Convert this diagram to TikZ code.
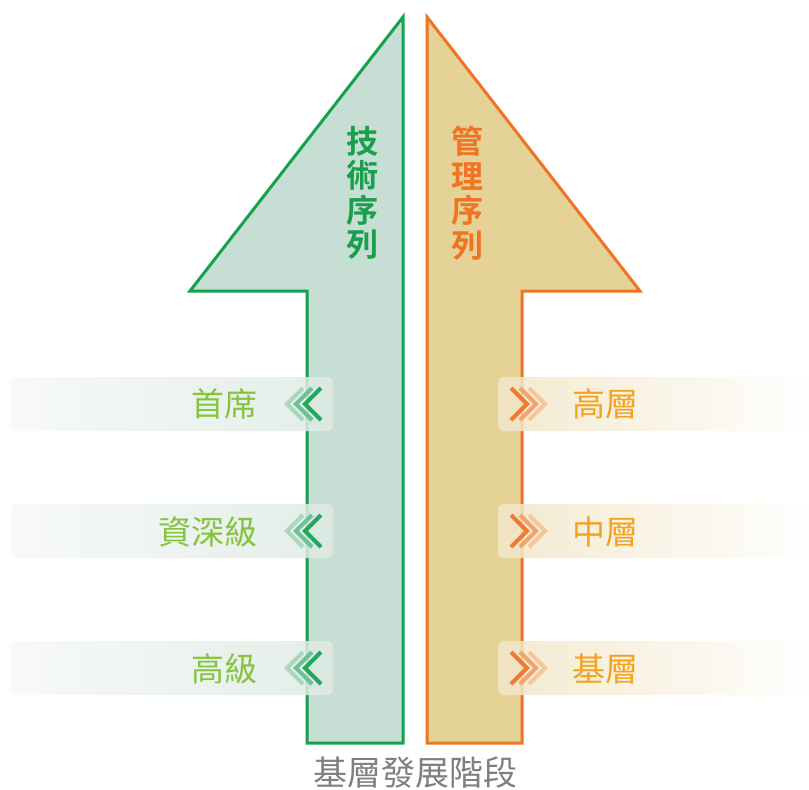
\documentclass[tikz,border=0pt]{standalone}
\usepackage{fontspec}
\setmainfont{Noto Sans CJK TC}
\newfontfamily\cjkb{Noto Sans CJK TC Bold}
\usetikzlibrary{calc}
\definecolor{gline}{HTML}{15A24E}
\definecolor{gfill}{HTML}{C6DED3}
\definecolor{oline}{HTML}{F07424}
\definecolor{ofill}{HTML}{E4D296}
\definecolor{glabel}{HTML}{86C440}
\definecolor{olabel}{HTML}{F5A21F}
\definecolor{gvert}{HTML}{1AA04C}
\definecolor{overt}{HTML}{F07424}
\definecolor{greytxt}{HTML}{7F7F80}
\definecolor{gban}{HTML}{DFEAE4}
\definecolor{oban}{HTML}{F1E6C8}
\definecolor{gch1}{HTML}{22A85C}
\definecolor{gch2}{HTML}{6CC294}
\definecolor{gch3}{HTML}{A9D8BE}
\definecolor{och1}{HTML}{F07A34}
\definecolor{och2}{HTML}{F3A46C}
\definecolor{och3}{HTML}{F5C69A}
\tikzset{
  gbanner/.style={rounded corners=5pt, left color=white!70!gban, right color=gban, draw=none, fill opacity=0.85},
  obanner/.style={rounded corners=5pt, left color=oban, right color=white, draw=none, fill opacity=0.85},
  glab/.style={font=\fontsize{33}{33}\selectfont, text=glabel, anchor=east, inner sep=0pt},
  olab/.style={font=\fontsize{33}{33}\selectfont, text=olabel, anchor=west, inner sep=0pt},
  vtxt/.style={font=\cjkb\fontsize{32}{34.5}\selectfont, align=center, inner sep=0pt},
  chev/.style={line width=4pt, miter limit=10, line join=miter}
}
\begin{document}
\begin{tikzpicture}[x=1pt,y=-1pt]
\useasboundingbox (0,0) rectangle (809,790);
% arrows
\draw[line width=3pt, draw=gline, fill=gfill, line join=miter]
  (403,17) -- (403,743) -- (307,743) -- (307,291) -- (190,291) -- cycle;
\draw[line width=3pt, draw=oline, fill=ofill, line join=miter]
  (427,17) -- (427,743) -- (522,743) -- (522,291) -- (640,291) -- cycle;
% vertical titles
\node[vtxt, text=gvert] (tech) at (362,193) {技\\術\\序\\列};
\node[vtxt, text=overt] (mgmt) at (467,193) {管\\理\\序\\列};
% banners
\foreach \y/\n in {404/a,531/b,668/c}{
  \shade[gbanner] (11,\y-27) rectangle (333,\y+27);
  \draw[chev, gch3] (303,\y-16) -- (287,\y) -- (303,\y+16);
  \draw[chev, gch2] (312,\y-16) -- (296,\y) -- (312,\y+16);
  \draw[chev, gch1] (321,\y-16) -- (305,\y) -- (321,\y+16);
  \shade[obanner] (498,\y-27) rectangle (820,\y+27);
  \draw[chev, och3] (529,\y-16) -- (545,\y) -- (529,\y+16);
  \draw[chev, och2] (520,\y-16) -- (536,\y) -- (520,\y+16);
  \draw[chev, och1] (511,\y-16) -- (527,\y) -- (511,\y+16);
}
\node[glab] (l1) at (258,404) {首席};
\node[glab] (l2) at (258,532) {資深級};
\node[glab] (l3) at (258,669) {高級};
\node[olab] (r1) at (572,404) {高層};
\node[olab] (r2) at (572,532) {中層};
\node[olab] (r3) at (572,669) {基層};
% bottom title
\node[font=\fontsize{34}{34}\selectfont, text=greytxt, inner sep=0pt] (stage) at (415,773) {基層發展階段};
\end{tikzpicture}
\end{document}
